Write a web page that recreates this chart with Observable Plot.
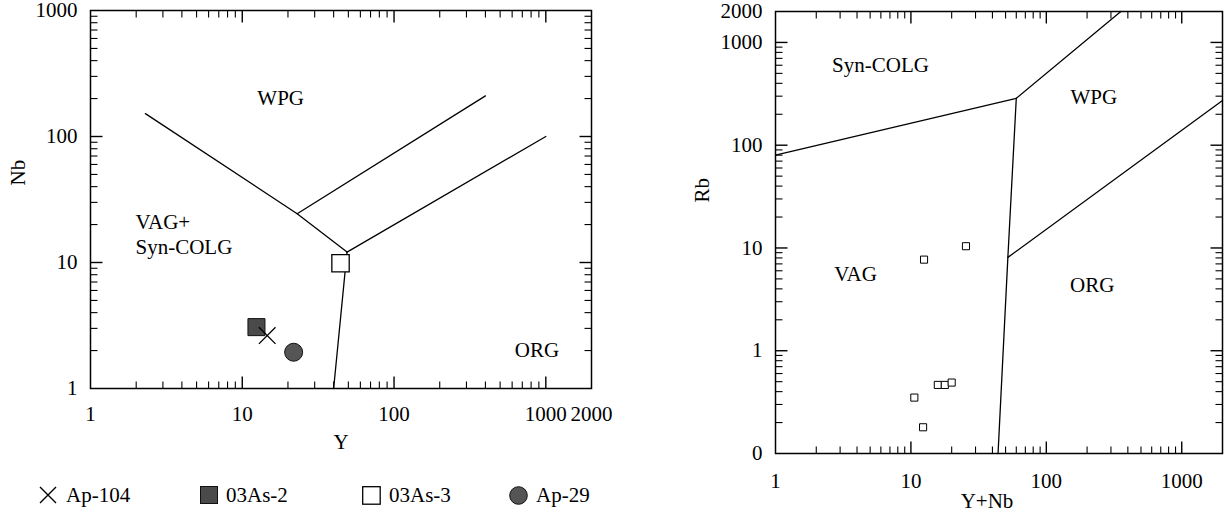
<!DOCTYPE html>
<html>
<head>
<meta charset="utf-8">
<script src="https://cdn.jsdelivr.net/npm/d3@7"></script>
<script src="https://cdn.jsdelivr.net/npm/@observablehq/plot@0.6"></script>
<style>
  html, body { margin: 0; padding: 0; background: #fff; }
  body { width: 1229px; height: 518px; overflow: hidden; font-family: "Liberation Serif", "Times New Roman", serif; }
  #wrap { position: relative; width: 1229px; height: 518px; }
  #left { position: absolute; left: 0; top: 0; }
  #right { position: absolute; left: 640px; top: 0; }
  .leg { position: absolute; top: 483px; height: 24px; display: flex; align-items: center; font-size: 21px; color: #000; white-space: nowrap; }
  .leg svg { margin-right: 8px; }
</style>
</head>
<body>
<div id="wrap">
  <div id="left"></div>
  <div id="right"></div>
  <div id="legend"></div>
</div>
<script>
// ---------- data: left panel (Nb vs Y) ----------
const samples = ["Ap-104", "03As-2", "03As-3", "Ap-29"];
const sampleY = [14.6, 12.4, 44.4, 21.8];
const sampleNb = [2.63, 3.07, 9.87, 1.94];

// field boundaries, left panel
const bL1Y = [2.3, 23, 49];   const bL1Nb = [152, 24.4, 12.1];
const bL2Y = [23, 400];       const bL2Nb = [24.4, 210];
const bL3Y = [49, 1000];      const bL3Nb = [12.1, 100];
const bL4Y = [40, 49];        const bL4Nb = [1, 12.1];

// field labels, left panel
const fieldsL = ["WPG", "ORG"];
const fieldsLY = [17.9, 875];
const fieldsLNb = [200, 2.0];
const fieldVagL = ["VAG+\nSyn-COLG"];
const fieldVagLY = [1.98];
const fieldVagLNb = [17.1];

// ---------- data: right panel (Rb vs Y+Nb) ----------
const ynb = [12.5, 25.5, 10.6, 15.8, 17.8, 20, 12.3];
const rb = [7.7, 10.4, 0.35, 0.465, 0.465, 0.49, 0.18];

const bR1X = [1, 60];        const bR1Rb = [80, 286];
const bR2X = [60, 355];      const bR2Rb = [286, 2000];
const bR3X = [60, 52, 44];   const bR3Rb = [286, 8.1, 0.1];
const bR4X = [52, 2000];     const bR4Rb = [8.1, 272];

const fieldsR = ["Syn-COLG", "WPG", "VAG", "ORG"];
const fieldsRX = [5.96, 224, 3.9, 218];
const fieldsRRb = [594, 292, 5.5, 4.3];

// tick labels
const ticksLX = [1, 10, 100, 1000, 2000];
const ticksLY = [1, 10, 100, 1000];
const ticksRX = [1, 10, 100, 1000];
const ticksRY = [0.1, 1, 10, 100, 1000, 2000];
const tickLabelRY = ["0", "1", "10", "100", "1000", "2000"];

// minor tick helper (axis configuration)
function minors(decades) {
  const out = [];
  for (const d of decades) for (let k = 2; k <= 9; k++) out.push(k * d);
  return out;
}

const FONT = "Liberation Serif";
const FS = 21;
const pts = (xs, ys) => xs.map((x, i) => ({x, y: ys[i]}));
const lineOpts = {x: "x", y: "y", stroke: "black", strokeWidth: 1.3};

// inward ticks on all four sides, built as short link segments on the log scales
function tickLinks(xMajor, xMinor, yMajor, yMinor, xDom, yDom, frameW, frameH) {
  const pxX = frameW / Math.log10(xDom[1] / xDom[0]);
  const pxY = frameH / Math.log10(yDom[1] / yDom[0]);
  const fx = L => Math.pow(10, L / pxX);
  const fy = L => Math.pow(10, L / pxY);
  const major = [], minor = [];
  const add = (arr, vals, L, isX) => {
    for (const v of vals) {
      if (isX) {
        arr.push({x1: v, x2: v, y1: yDom[0], y2: yDom[0] * fy(L)});
        arr.push({x1: v, x2: v, y1: yDom[1], y2: yDom[1] / fy(L)});
      } else {
        arr.push({y1: v, y2: v, x1: xDom[0], x2: xDom[0] * fx(L)});
        arr.push({y1: v, y2: v, x1: xDom[1], x2: xDom[1] / fx(L)});
      }
    }
  };
  add(major, xMajor, 12, true); add(minor, xMinor, 7, true);
  add(major, yMajor, 12, false); add(minor, yMinor, 7, false);
  const o = {x1: "x1", y1: "y1", x2: "x2", y2: "y2", stroke: "black"};
  return [
    Plot.link(major, {...o, strokeWidth: 1.4}),
    Plot.link(minor, {...o, strokeWidth: 1.1})
  ];
}

// ---------- left plot ----------
const LW = 620, LH = 460, LM = {l: 90, r: 29, t: 10, b: 72};
const leftPlot = Plot.plot({
  width: LW, height: LH,
  marginLeft: LM.l, marginRight: LM.r, marginTop: LM.t, marginBottom: LM.b,
  x: {type: "log", domain: [1, 2000]},
  y: {type: "log", domain: [1, 1000]},
  style: {fontFamily: FONT, fontSize: FS + "px", background: "white", color: "black", overflow: "visible"},
  marks: [
    Plot.frame({stroke: "black", fill: "none", strokeWidth: 1.5}),
    ...tickLinks([10, 100, 1000], minors([1, 10, 100]), [10, 100], minors([1, 10, 100]),
                 [1, 2000], [1, 1000], LW - LM.l - LM.r, LH - LM.t - LM.b),
    Plot.axisX({anchor: "bottom", ticks: ticksLX, tickSize: 0, tickPadding: 18, tickFormat: d => String(d), label: null, fontSize: FS}),
    Plot.axisY({anchor: "left", ticks: ticksLY, tickSize: 0, tickPadding: 13, tickFormat: d => String(d), label: null, fontSize: FS}),
    Plot.line(pts(bL1Y, bL1Nb), lineOpts),
    Plot.line(pts(bL2Y, bL2Nb), lineOpts),
    Plot.line(pts(bL3Y, bL3Nb), lineOpts),
    Plot.line(pts(bL4Y, bL4Nb), lineOpts),
    Plot.text(fieldsL, {x: fieldsLY, y: fieldsLNb, text: d => d, fontSize: FS}),
    Plot.text(fieldVagL, {x: fieldVagLY, y: fieldVagLNb, text: d => d, textAnchor: "start", lineHeight: 1.2, fontSize: FS}),
    // samples
    Plot.dot([0], {x: [sampleY[1]], y: [sampleNb[1]], symbol: "square", r: 9.6, fill: "#4a4a4a", stroke: "#111", strokeWidth: 1}),
    Plot.dot([0], {x: [sampleY[0]], y: [sampleNb[0]], symbol: "times", r: 7.6, stroke: "#000", strokeWidth: 1.3}),
    Plot.dot([0], {x: [sampleY[3]], y: [sampleNb[3]], symbol: "circle", r: 9, fill: "#555", stroke: "#111", strokeWidth: 1}),
    Plot.dot([0], {x: [sampleY[2]], y: [sampleNb[2]], symbol: "square", r: 9.8, fill: "white", stroke: "#000", strokeWidth: 1.3}),
    // axis titles
    Plot.text(["Y"], {frameAnchor: "bottom", dy: 60, text: d => d, fontSize: FS}),
    Plot.text(["Nb"], {frameAnchor: "left", dx: -72, dy: -14, rotate: -90, text: d => d, fontSize: FS})
  ]
});
document.getElementById("left").append(leftPlot);

// ---------- right plot ----------
const RW = 589, RH = 518, RM = {l: 135, r: 7, t: 11, b: 65};
const rightPlot = Plot.plot({
  width: RW, height: RH,
  marginLeft: RM.l, marginRight: RM.r, marginTop: RM.t, marginBottom: RM.b,
  x: {type: "log", domain: [1, 2000]},
  y: {type: "log", domain: [0.1, 2000]},
  style: {fontFamily: FONT, fontSize: FS + "px", background: "white", color: "black", overflow: "visible"},
  marks: [
    Plot.frame({stroke: "black", fill: "none", strokeWidth: 1.5}),
    ...tickLinks([10, 100, 1000], minors([1, 10, 100]), [1, 10, 100, 1000], minors([0.1, 1, 10, 100]),
                 [1, 2000], [0.1, 2000], RW - RM.l - RM.r, RH - RM.t - RM.b),
    Plot.axisX({anchor: "bottom", ticks: ticksRX, tickSize: 0, tickPadding: 20, tickFormat: d => String(d), label: null, fontSize: FS}),
    Plot.axisY({anchor: "left", ticks: ticksRY, tickSize: 0, tickPadding: 13, tickFormat: d => tickLabelRY[ticksRY.indexOf(d)], label: null, fontSize: FS}),
    Plot.line(pts(bR1X, bR1Rb), lineOpts),
    Plot.line(pts(bR2X, bR2Rb), lineOpts),
    Plot.line(pts(bR3X, bR3Rb), lineOpts),
    Plot.line(pts(bR4X, bR4Rb), lineOpts),
    Plot.text(fieldsR, {x: fieldsRX, y: fieldsRRb, text: d => d, fontSize: FS}),
    Plot.dot(ynb.map((x, i) => ({x, y: rb[i]})), {x: "x", y: "y", symbol: "square", r: 4, fill: "white", stroke: "#000", strokeWidth: 1}),
    Plot.text(["Y+Nb"], {frameAnchor: "bottom", dy: 54, dx: -12, text: d => d, fontSize: FS}),
    Plot.text(["Rb"], {frameAnchor: "left", dx: -73, dy: -30, rotate: -90, text: d => d, fontSize: FS})
  ]
});
document.getElementById("right").append(rightPlot);

// ---------- legend (HTML) ----------
const legendSymbols = {
  "Ap-104": '<svg width="20" height="20"><path d="M2,2L18,18M18,2L2,18" stroke="#000" stroke-width="1.4"/></svg>',
  "03As-2": '<svg width="18" height="18"><rect x="0.5" y="0.5" width="17" height="17" fill="#4a4a4a" stroke="#111"/></svg>',
  "03As-3": '<svg width="19" height="19"><rect x="0.7" y="0.7" width="17.5" height="17.5" fill="#fff" stroke="#000" stroke-width="1.3"/></svg>',
  "Ap-29": '<svg width="19" height="19"><circle cx="9.5" cy="9.5" r="8.8" fill="#555" stroke="#111"/></svg>'
};
const legendLeft = [38, 200, 362, 509];
const leg = document.getElementById("legend");
samples.forEach((s, i) => {
  const d = document.createElement("div");
  d.className = "leg";
  d.style.left = legendLeft[i] + "px";
  d.innerHTML = legendSymbols[s] + "<span>" + s + "</span>";
  leg.append(d);
});
</script>
</body>
</html>
